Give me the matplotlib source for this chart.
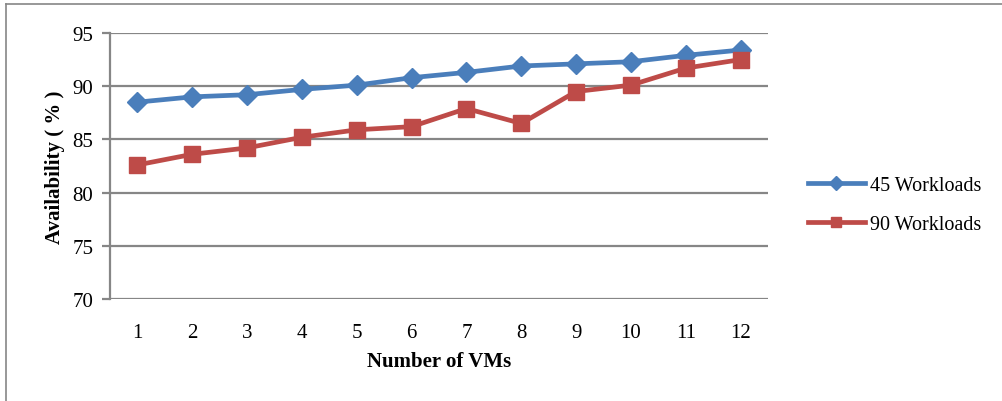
import matplotlib.pyplot as plt
from matplotlib.lines import Line2D

# data
vms = [1, 2, 3, 4, 5, 6, 7, 8, 9, 10, 11, 12]
wl45 = [88.5, 89.0, 89.2, 89.7, 90.1, 90.8, 91.3, 91.9, 92.1, 92.3, 92.9, 93.4]
wl90 = [82.6, 83.6, 84.2, 85.2, 85.9, 86.2, 87.9, 86.5, 89.5, 90.1, 91.7, 92.5]
yticks = [70, 75, 80, 85, 90, 95]

blue = '#4A7EBB'
red = '#BE4B48'
grid = '#868686'

plt.rcParams['font.family'] = ['Liberation Serif', 'DejaVu Serif']

fig = plt.figure(figsize=(10.02, 4.02), dpi=100)
W, H = 1002.0, 402.0
ax = fig.add_axes([110 / W, 1 - 300 / H, (768 - 110) / W, (300 - 34) / H])

ax.plot(vms, wl45, color=blue, lw=3.4, marker='D', ms=10, mec=blue, mfc=blue, zorder=3)
ax.plot(vms, wl90, color=red, lw=3.4, marker='s', ms=12, mec=red, mfc=red, zorder=4)

ax.set_xlim(0.5, 12.5)
ax.set_ylim(70, 95)
ax.set_yticks(yticks)
ax.set_xticks(vms)
ax.yaxis.grid(True, color=grid, lw=1.6)
ax.set_axisbelow(True)
for s in ['top', 'right', 'bottom']:
    ax.spines[s].set_visible(False)
ax.spines['left'].set_color(grid)
ax.spines['left'].set_linewidth(1.6)
ax.tick_params(axis='y', length=6, width=1.6, color=grid, labelsize=15, pad=6)
ax.tick_params(axis='x', length=0, labelsize=15, pad=17)

ax.set_xlabel('Number of VMs', fontsize=15, fontweight='bold', labelpad=7)
ax.set_ylabel('Availability ( % )', fontsize=15, fontweight='bold', labelpad=5)

handles = [
    Line2D([], [], color=blue, lw=3.4, marker='D', ms=7, mec=blue, mfc=blue),
    Line2D([], [], color=red, lw=3.4, marker='s', ms=7, mec=red, mfc=red),
]
fig.legend(handles, ['45 Workloads', '90 Workloads'], loc='center left',
           bbox_to_anchor=(790 / W, 1 - 206 / H), frameon=False, fontsize=14.5,
           handlelength=2.8, handletextpad=0.25, labelspacing=1.0)

# outer chart frame (only top and left edges visible in the crop)
fig.add_artist(Line2D([6 / W, 1], [1 - 5 / H, 1 - 5 / H], color=grid, lw=1.2))
fig.add_artist(Line2D([6 / W, 6 / W], [0, 1 - 5 / H], color=grid, lw=1.2))

fig.savefig('out.png', dpi=100)
